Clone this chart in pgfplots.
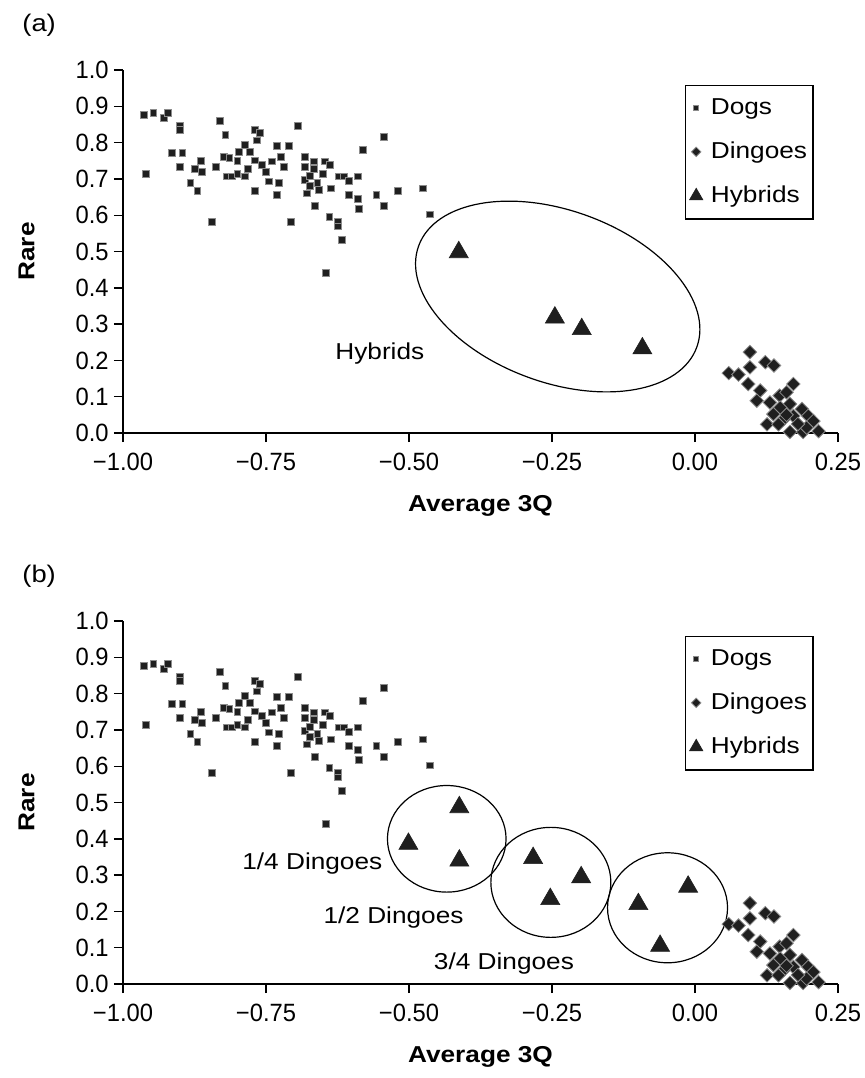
\documentclass[border=0pt]{standalone}
\usepackage{fontspec}
\setmainfont{Liberation Sans}[FakeStretch=1.14]
\newfontfamily\tickfont{Liberation Sans}[FakeStretch=0.95]
\usepackage{pgfplots}
\usepackage{pgfplotstable}
\pgfplotsset{compat=1.18}
\usetikzlibrary{shapes.geometric}

\definecolor{mk}{gray}{0.12}
\definecolor{mkedge}{gray}{0.55}

% dogs (same in both panels)
\pgfplotstableread{
x y
-0.963 0.876
-0.947 0.881
-0.929 0.867
-0.922 0.881
-0.901 0.845
-0.901 0.834
-0.960 0.714
-0.914 0.772
-0.896 0.772
-0.901 0.733
-0.882 0.689
-0.870 0.667
-0.874 0.727
-0.864 0.749
-0.862 0.719
-0.837 0.733
-0.845 0.581
-0.830 0.860
-0.821 0.821
-0.824 0.761
-0.814 0.758
-0.818 0.707
-0.810 0.707
-0.800 0.714
-0.787 0.707
-0.800 0.750
-0.797 0.774
-0.787 0.793
-0.778 0.774
-0.782 0.728
-0.770 0.751
-0.770 0.668
-0.770 0.836
-0.761 0.827
-0.766 0.806
-0.757 0.739
-0.750 0.719
-0.745 0.693
-0.740 0.748
-0.731 0.792
-0.724 0.761
-0.719 0.733
-0.727 0.689
-0.731 0.656
-0.710 0.792
-0.707 0.581
-0.694 0.845
-0.682 0.761
-0.682 0.733
-0.682 0.697
-0.679 0.660
-0.666 0.748
-0.666 0.728
-0.673 0.709
-0.673 0.680
-0.660 0.689
-0.657 0.669
-0.664 0.626
-0.650 0.714
-0.647 0.748
-0.638 0.739
-0.636 0.674
-0.639 0.596
-0.624 0.581
-0.624 0.569
-0.618 0.533
-0.645 0.441
-0.623 0.707
-0.614 0.707
-0.605 0.695
-0.605 0.656
-0.590 0.707
-0.590 0.646
-0.587 0.617
-0.580 0.781
-0.557 0.656
-0.544 0.626
-0.544 0.815
-0.519 0.667
-0.476 0.674
-0.463 0.602
}\dogs

% dingoes (same in both panels)
\pgfplotstableread{
x y
0.096 0.223
0.123 0.195
0.138 0.186
0.059 0.165
0.076 0.161
0.096 0.181
0.093 0.135
0.114 0.117
0.108 0.089
0.131 0.084
0.148 0.103
0.172 0.135
0.160 0.112
0.166 0.080
0.149 0.070
0.137 0.052
0.187 0.066
0.172 0.047
0.155 0.038
0.126 0.024
0.146 0.024
0.198 0.047
0.207 0.033
0.166 0.003
0.189 0.003
0.216 0.005
0.195 0.015
0.180 0.025
0.160 0.050
}\dingoes

\pgfplotstableread{
x y
-0.413 0.498
-0.245 0.318
-0.198 0.286
-0.092 0.233
}\hybridsA

\pgfplotstableread{
x y
-0.412 0.487
-0.501 0.386
-0.412 0.340
-0.283 0.347
-0.199 0.294
-0.253 0.234
-0.099 0.220
-0.012 0.268
-0.061 0.105
}\hybridsB

\pgfplotsset{
  panel/.style={
    scale only axis, width=357.5pt, height=181.5pt,
    xmin=-1, xmax=0.25, ymin=0, ymax=1,
    axis x line=bottom, axis y line=left,
    axis line style={-, line width=0.7pt, black},
    tick align=outside, major tick length=4.5pt,
    tick style={line width=0.7pt, black},
    xtick={-1,-0.75,-0.5,-0.25,0,0.25},
    xticklabels={−1.00,−0.75,−0.50,−0.25,0.00,0.25},
    ytick={0,0.1,0.2,0.3,0.4,0.5,0.6,0.7,0.8,0.9,1.0},
    yticklabels={0.0,0.1,0.2,0.3,0.4,0.5,0.6,0.7,0.8,0.9,1.0},
    ticklabel style={font=\tickfont\fontsize{12.5}{14}\selectfont},
    xticklabel style={anchor=north, inner sep=0pt, yshift=-5.5pt},
    yticklabel style={anchor=east, inner sep=0pt, xshift=-2.5pt},
    ylabel={\bfseries Rare},
    ylabel style={at={(axis description cs:-0.135,0.5)}, anchor=center},
    clip=false,
    legend style={at={(rel axis cs:0.966,0.959)}, anchor=north east,
      draw=black, line width=0.6pt, row sep=11pt, column sep=3pt,
      inner xsep=2pt, inner ysep=6pt,
      nodes={inner xsep=1pt, inner ysep=0.5pt}},
    legend cell align=left,
    legend image code/.code={\draw[##1, /tikz/every mark/.append style={scale=0.7}]
      plot coordinates {(0cm,0cm)};},
  },
  dog/.style={only marks, mark=square*, mark size=1.7pt,
    mark options={fill=mk, draw=mkedge, line width=0.4pt}},
  dingo/.style={only marks, mark=square*, mark size=2.4pt,
    mark options={fill=mk, draw=mkedge, line width=0.4pt, rotate=45}},
  hybrid/.style={only marks, mark=triangle*, mark size=5.5pt,
    mark options={fill=mk, draw=mk, line width=0.3pt}},
}

\begin{document}
\fontsize{11.5}{13.8}\selectfont
\begin{tikzpicture}
\useasboundingbox (0pt,0pt) rectangle (432.5pt,-539pt);

% (a)
\begin{axis}[panel, at={(61.5pt,-216.5pt)}, anchor=south west]
\addplot[dog] table {\dogs};
\addlegendentry{Dogs}
\addplot[dingo] table {\dingoes};
\addlegendentry{Dingoes}
\addplot[hybrid] table {\hybridsA};
\addlegendentry{Hybrids}
\node[draw, ellipse, line width=0.6pt, minimum width=148pt, minimum height=86pt,
  inner sep=0pt, rotate=-20] at (axis cs:-0.24,0.376) {};
\node at (axis cs:-0.551,0.218) {Hybrids};
\node[font=\bfseries, yshift=-36.5pt] at (axis cs:-0.375,0) {Average 3Q};
\node[anchor=west, inner sep=0pt, font=\fontsize{12}{14}\selectfont,
  xshift=-50.5pt, yshift=22.5pt] at (axis cs:-1,1) {(a)};
\end{axis}

% (b)
\begin{axis}[panel, at={(61.5pt,-492pt)}, anchor=south west]
\addplot[dog] table {\dogs};
\addlegendentry{Dogs}
\addplot[dingo] table {\dingoes};
\addlegendentry{Dingoes}
\addplot[hybrid] table {\hybridsB};
\addlegendentry{Hybrids}
\node[draw, ellipse, line width=0.6pt, minimum width=59.3pt, minimum height=53.3pt,
  inner sep=0pt] at (axis cs:-0.434,0.400) {};
\node[draw, ellipse, line width=0.6pt, minimum width=60pt, minimum height=55pt,
  inner sep=0pt] at (axis cs:-0.252,0.280) {};
\node[draw, ellipse, line width=0.6pt, minimum width=60pt, minimum height=55pt,
  inner sep=0pt] at (axis cs:-0.048,0.210) {};
\node at (axis cs:-0.669,0.331) {1/4 Dingoes};
\node at (axis cs:-0.527,0.183) {1/2 Dingoes};
\node at (axis cs:-0.334,0.056) {3/4 Dingoes};
\node[font=\bfseries, yshift=-36.5pt] at (axis cs:-0.375,0) {Average 3Q};
\node[anchor=west, inner sep=0pt, font=\fontsize{12}{14}\selectfont,
  xshift=-50.5pt, yshift=22.5pt] at (axis cs:-1,1) {(b)};
\end{axis}
\end{tikzpicture}
\end{document}
